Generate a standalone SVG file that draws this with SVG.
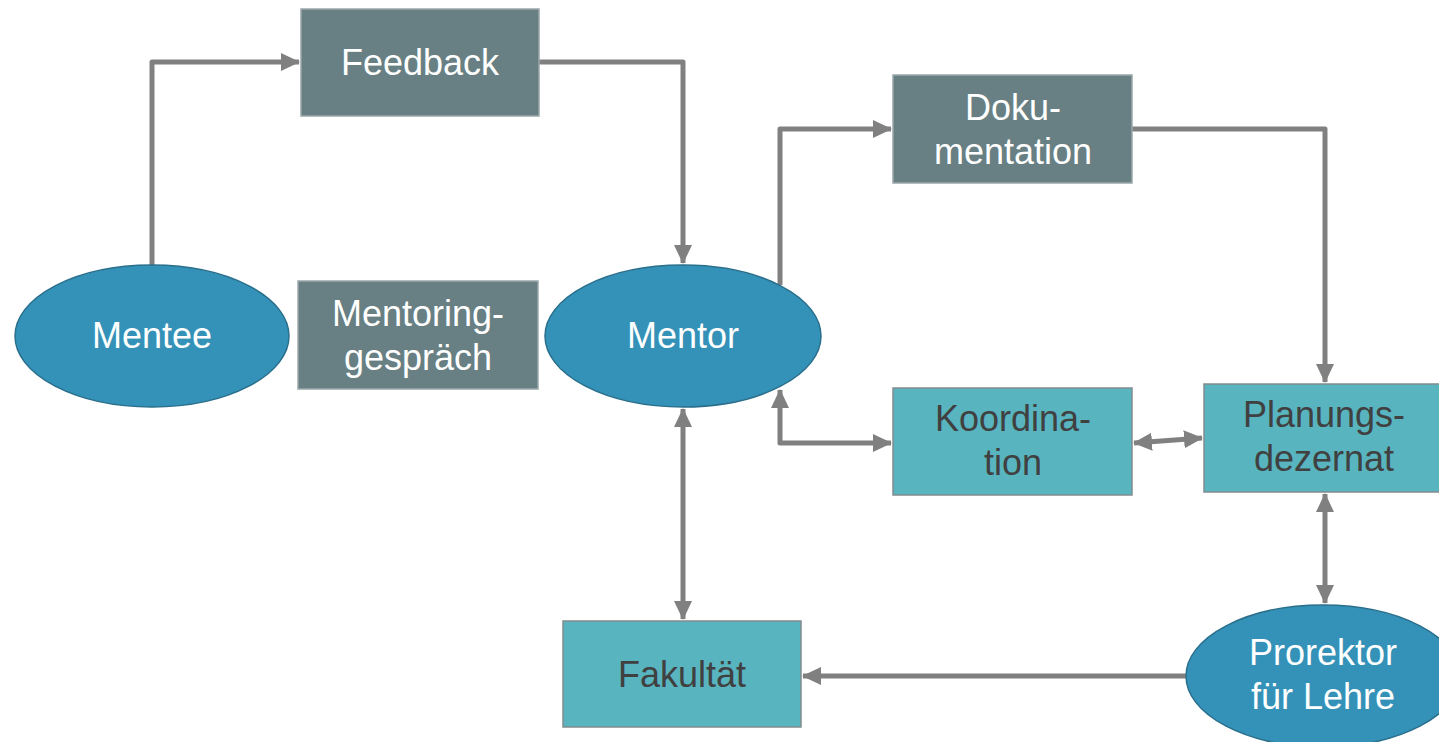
<svg xmlns="http://www.w3.org/2000/svg" width="1439" height="742" viewBox="0 0 1439 742">
<style>
  .dark { fill: #687f83; stroke: #9aa8aa; stroke-width: 1.5; }
  .light { fill: #58b4bf; stroke: #808c8e; stroke-width: 1.5; }
  .oval { fill: #3492b8; stroke: #2a6f8c; stroke-width: 1.5; }
  .t { font-family: "Liberation Sans", Arial, sans-serif; font-size: 36px; text-anchor: middle; }
  .w { fill: #ffffff; }
  .k { fill: #404040; }
  .c { fill: none; stroke: #808080; stroke-width: 5; stroke-linejoin: round; }
</style>
<defs>
  <marker id="ah" markerUnits="userSpaceOnUse" markerWidth="20" markerHeight="20" viewBox="0 0 20 20" refX="18" refY="10" orient="auto-start-reverse">
    <path d="M0,1 L19,10 L0,19 Z" fill="#808080"/>
  </marker>
</defs>
<rect width="1439" height="742" fill="#ffffff"/>
<g id="connectors">
  <path class="c" d="M152,265 V62 H299" marker-end="url(#ah)"/>
  <path class="c" d="M539,62 H683 V263" marker-end="url(#ah)"/>
  <path class="c" d="M780,285 V129 H891" marker-end="url(#ah)"/>
  <path class="c" d="M1132,129 H1325 V382" marker-end="url(#ah)"/>
  <path class="c" d="M780,390 V443 H891" marker-start="url(#ah)" marker-end="url(#ah)"/>
  <path class="c" d="M1134,443 L1202,438" marker-start="url(#ah)" marker-end="url(#ah)"/>
  <path class="c" d="M1325,494 V603" marker-start="url(#ah)" marker-end="url(#ah)"/>
  <path class="c" d="M683,409 V619" marker-start="url(#ah)" marker-end="url(#ah)"/>
  <path class="c" d="M1186,676 H803" marker-end="url(#ah)"/>
</g>
<g id="feedback">
  <rect class="dark" x="301" y="9" width="238" height="107"/>
  <text class="t w" x="420" y="75">Feedback</text>
</g>
<g id="mentoringgespraech">
  <rect class="dark" x="298" y="281" width="240" height="108"/>
  <text class="t w" x="418" y="326">Mentoring-</text>
  <text class="t w" x="418" y="370">gespräch</text>
</g>
<g id="mentee">
  <ellipse class="oval" cx="152" cy="336" rx="137" ry="71"/>
  <text class="t w" x="152" y="348">Mentee</text>
</g>
<g id="mentor">
  <ellipse class="oval" cx="683" cy="336" rx="138" ry="71"/>
  <text class="t w" x="683" y="348">Mentor</text>
</g>
<g id="dokumentation">
  <rect class="dark" x="893" y="75" width="239" height="108"/>
  <text class="t w" x="1013" y="120">Doku-</text>
  <text class="t w" x="1013" y="164">mentation</text>
</g>
<g id="koordination">
  <rect class="light" x="893" y="388" width="239" height="107"/>
  <text class="t k" x="1013" y="431">Koordina-</text>
  <text class="t k" x="1013" y="475">tion</text>
</g>
<g id="planungsdezernat">
  <rect class="light" x="1204" y="384" width="240" height="108"/>
  <text class="t k" x="1324" y="427">Planungs-</text>
  <text class="t k" x="1324" y="471">dezernat</text>
</g>
<g id="prorektor">
  <ellipse class="oval" cx="1323" cy="676" rx="137" ry="71"/>
  <text class="t w" x="1323" y="665">Prorektor</text>
  <text class="t w" x="1323" y="709">für Lehre</text>
</g>
<g id="fakultaet">
  <rect class="light" x="563" y="621" width="238" height="106"/>
  <text class="t k" x="682" y="687">Fakultät</text>
</g>
</svg>
